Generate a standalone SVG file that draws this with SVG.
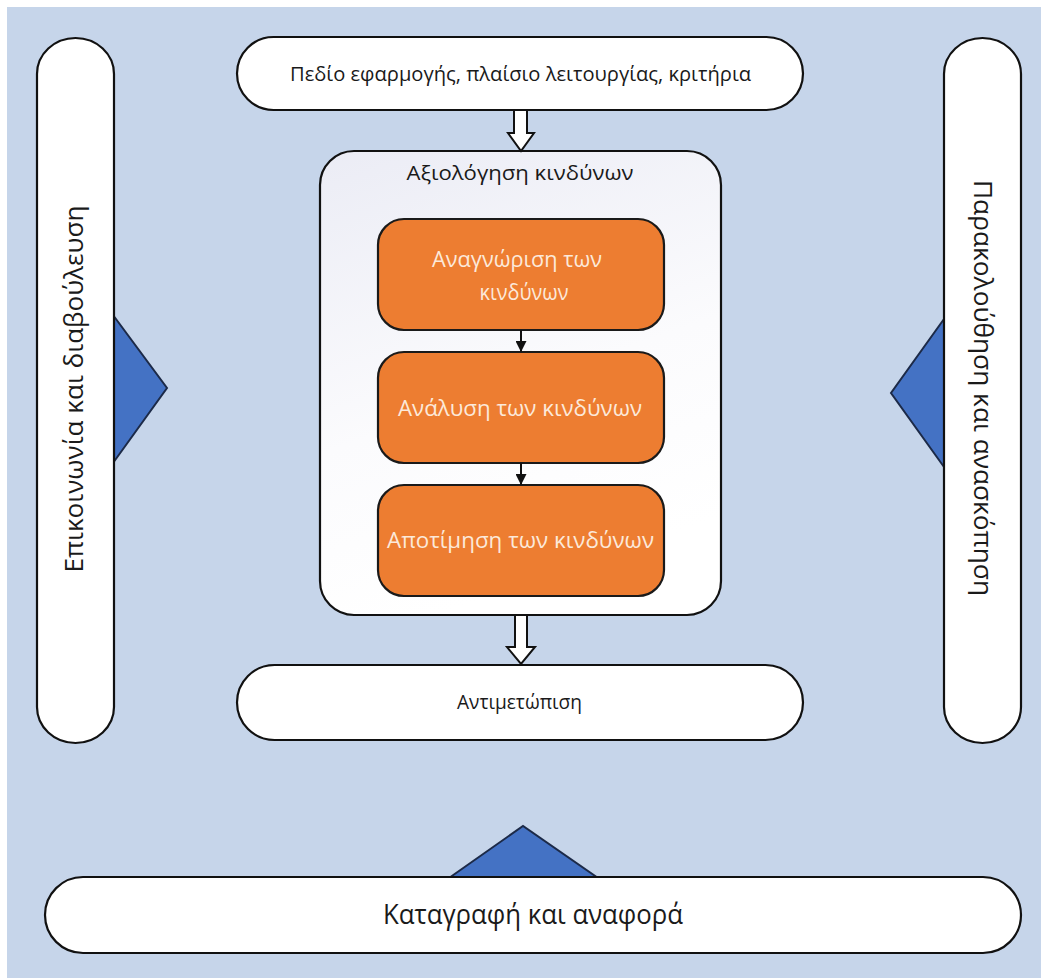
<svg xmlns="http://www.w3.org/2000/svg" width="1041" height="978" viewBox="0 0 1041 978">
  <defs>
    <linearGradient id="panelFill" x1="0" y1="0" x2="0.3" y2="1">
      <stop offset="0" stop-color="#EBECF5"/>
      <stop offset="0.6" stop-color="#FBFBFD"/>
      <stop offset="1" stop-color="#FFFFFF"/>
    </linearGradient>
    <marker id="head" viewBox="0 0 10 10" refX="10" refY="5" markerWidth="11" markerHeight="11" markerUnits="userSpaceOnUse" orient="auto">
      <path d="M0,0 L10,5 L0,10 Z" fill="#111"/>
    </marker>
    <style>
      .pill { fill: #FFFFFF; stroke: #111; stroke-width: 2.2; }
      .step { fill: #ED7D31; stroke: #1A1A1A; stroke-width: 2.2; }
      .tri { fill: #4472C4; stroke: #1C2A48; stroke-width: 2; stroke-linejoin: miter; }
      .hollow { fill: #FFFFFF; stroke: #111; stroke-width: 2; stroke-linejoin: miter; }
      .link { stroke: #111; stroke-width: 2; fill: none; }
      .lbl { font-family: "Open Sans", "Liberation Sans", sans-serif; fill: #1A1A1A; text-anchor: middle; }
      .stepLbl { font-family: "Open Sans", "Liberation Sans", sans-serif; fill: #FCE9DA; text-anchor: middle; font-size: 22px; }
    </style>
  </defs>

  <!-- backdrop -->
  <rect x="0" y="0" width="1041" height="978" fill="#FFFFFF"/>
  <rect x="7" y="7" width="1034" height="971" fill="#C6D5EA"/>

  <!-- pointer triangles sitting behind the side and bottom bars -->
  <g id="pointers">
    <polygon class="tri" points="113,315 167,388 113,463"/>
    <polygon class="tri" points="944,319 891,393 944,467"/>
    <polygon class="tri" points="449,878 523,826 598,878"/>
  </g>

  <g id="communication">
    <rect class="pill" x="37" y="38" width="77" height="705" rx="38.5" ry="36"/>
    <text class="lbl" font-size="25" transform="rotate(-90 75 389)" x="75" y="397" textLength="367" lengthAdjust="spacingAndGlyphs">Επικοινωνία και διαβούλευση</text>
  </g>

  <g id="monitoring">
    <rect class="pill" x="944" y="38" width="77" height="705" rx="38.5" ry="36"/>
    <text class="lbl" font-size="25" transform="rotate(90 982 388)" x="982" y="396" textLength="416" lengthAdjust="spacingAndGlyphs">Παρακολούθηση και ανασκόπηση</text>
  </g>

  <g id="scope">
    <rect class="pill" x="237" y="37" width="566" height="73" rx="36.5"/>
    <text class="lbl" font-size="20" x="520.5" y="81" textLength="461" lengthAdjust="spacingAndGlyphs">Πεδίο εφαρμογής, πλαίσιο λειτουργίας, κριτήρια</text>
  </g>

  <g id="assessment">
    <rect x="320" y="151" width="401" height="464" rx="34" fill="url(#panelFill)" stroke="#111" stroke-width="2.2"/>
    <text class="lbl" font-size="20" x="520" y="180" textLength="227" lengthAdjust="spacingAndGlyphs">Αξιολόγηση κινδύνων</text>
  </g>

  <g id="identification">
    <rect class="step" x="378" y="219" width="286" height="111" rx="26"/>
    <text class="stepLbl" x="517" y="267" textLength="170" lengthAdjust="spacingAndGlyphs">Αναγνώριση των</text>
    <text class="stepLbl" x="524" y="300" textLength="89" lengthAdjust="spacingAndGlyphs">κινδύνων</text>
  </g>

  <g id="analysis">
    <rect class="step" x="378" y="352" width="286" height="111" rx="26"/>
    <text class="stepLbl" x="520" y="416" textLength="244" lengthAdjust="spacingAndGlyphs">Ανάλυση των κινδύνων</text>
  </g>

  <g id="evaluation">
    <rect class="step" x="378" y="485" width="286" height="111" rx="26"/>
    <text class="stepLbl" x="520.5" y="548" textLength="267" lengthAdjust="spacingAndGlyphs">Αποτίμηση των κινδύνων</text>
  </g>

  <g id="treatment">
    <rect class="pill" x="237" y="665" width="566" height="75" rx="37.5"/>
    <text class="lbl" font-size="20" x="519.5" y="709" textLength="125" lengthAdjust="spacingAndGlyphs">Αντιμετώπιση</text>
  </g>

  <g id="recording">
    <rect class="pill" x="45" y="877" width="976" height="76" rx="38"/>
    <text class="lbl" font-size="27" x="533" y="924" textLength="300" lengthAdjust="spacingAndGlyphs">Καταγραφή και αναφορά</text>
  </g>

  <g id="connectors">
    <polygon class="hollow" points="514,110 527,110 527,133 534,133 521,151 508,133 514,133"/>
    <polygon class="hollow" points="515,615 527,615 527,647 535,647 521,664 507,647 515,647"/>
    <line class="link" x1="521" y1="330" x2="521" y2="352" marker-end="url(#head)"/>
    <line class="link" x1="521" y1="463" x2="521" y2="485" marker-end="url(#head)"/>
  </g>
</svg>
